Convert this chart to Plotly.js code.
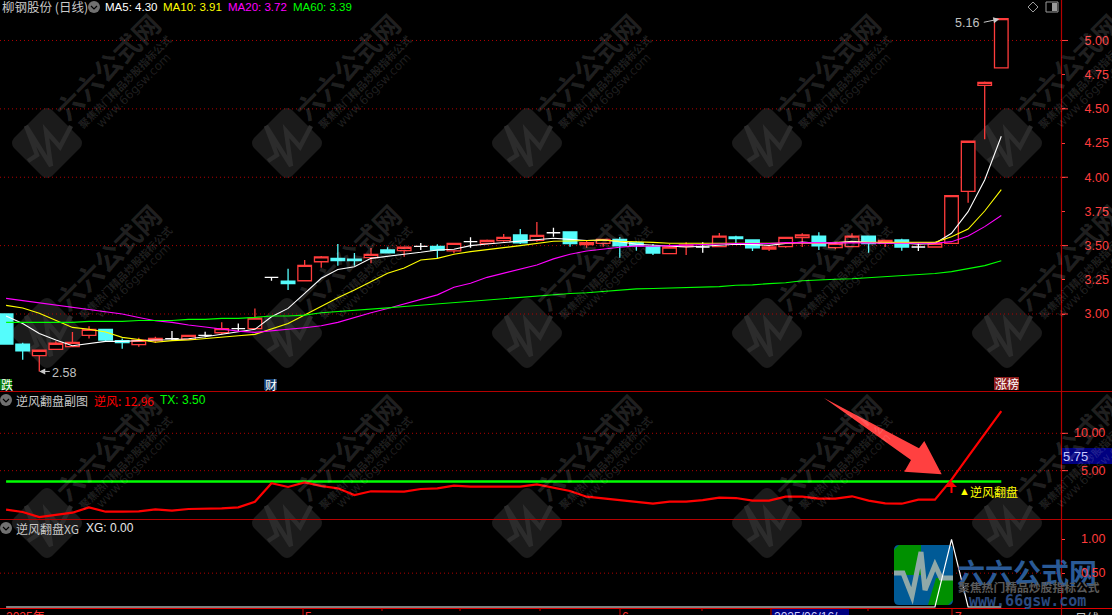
<!DOCTYPE html>
<html><head><meta charset="utf-8">
<script src="https://cdn.plot.ly/plotly-3.0.1.min.js"></script>
<style>html,body{margin:0;padding:0;background:#000;overflow:hidden}#c{width:1112px;height:615px}</style>
</head><body><div id="c"></div>
<script>
const dayIndex = Array.from({length:61},(_,i)=>i);
const openVals = [3.00,2.78,2.695,2.742,2.761,2.844,2.888,2.805,2.776,2.803,2.82,2.815,2.844,2.863,2.893,2.893,3.268,3.241,3.243,3.382,3.407,3.402,3.412,3.468,3.463,3.495,3.495,3.461,3.529,3.517,3.536,3.578,3.539,3.594,3.60,3.507,3.517,3.546,3.521,3.492,3.441,3.492,3.49,3.492,3.563,3.541,3.475,3.492,3.558,3.57,3.485,3.492,3.57,3.517,3.541,3.49,3.49,3.517,3.897,4.672,4.80];
const closeVals = [2.78,2.73,2.735,2.786,2.793,2.888,2.81,2.79,2.808,2.822,2.82,2.844,2.844,2.893,2.893,2.97,3.268,3.222,3.356,3.417,3.39,3.39,3.436,3.448,3.488,3.495,3.468,3.517,3.529,3.539,3.561,3.521,3.575,3.594,3.514,3.521,3.546,3.499,3.499,3.446,3.49,3.505,3.49,3.57,3.551,3.483,3.49,3.561,3.578,3.499,3.517,3.57,3.514,3.539,3.49,3.49,3.517,3.865,4.263,4.694,5.16];
const highVals = [3.00,2.79,2.735,2.80,2.868,2.91,2.888,2.82,2.827,2.834,2.876,2.844,2.87,2.94,2.93,3.04,3.27,3.33,3.395,3.424,3.512,3.446,3.483,3.488,3.488,3.519,3.51,3.517,3.561,3.545,3.585,3.622,3.673,3.631,3.60,3.536,3.546,3.563,3.53,3.512,3.512,3.524,3.524,3.592,3.572,3.546,3.505,3.561,3.59,3.597,3.517,3.59,3.57,3.539,3.55,3.517,3.517,3.865,4.263,4.70,5.16];
const lowVals = [2.78,2.666,2.58,2.742,2.761,2.82,2.797,2.746,2.761,2.79,2.81,2.815,2.83,2.85,2.876,2.893,3.243,3.175,3.243,3.339,3.353,3.353,3.371,3.444,3.419,3.468,3.407,3.444,3.485,3.51,3.529,3.512,3.529,3.565,3.492,3.485,3.492,3.412,3.463,3.431,3.441,3.431,3.448,3.492,3.517,3.461,3.461,3.485,3.49,3.468,3.473,3.492,3.448,3.49,3.463,3.461,3.485,3.517,3.814,4.277,4.80];
const ma5 = [2.985,2.931,2.858,2.81,2.768,2.783,2.80,2.80,2.807,2.81,2.812,2.819,2.834,2.853,2.868,2.888,2.98,3.041,3.151,3.261,3.326,3.346,3.407,3.424,3.437,3.451,3.468,3.473,3.50,3.512,3.522,3.532,3.541,3.554,3.546,3.537,3.541,3.529,3.51,3.502,3.493,3.49,3.495,3.505,3.51,3.507,3.502,3.515,3.527,3.517,3.52,3.532,3.522,3.52,3.52,3.51,3.515,3.59,3.748,3.98,4.30];
const ma10 = [3.063,3.044,3.005,2.951,2.902,2.888,2.868,2.829,2.814,2.793,2.805,2.81,2.822,2.832,2.841,2.851,2.892,2.931,2.992,3.058,3.119,3.175,3.237,3.298,3.337,3.395,3.407,3.437,3.456,3.473,3.485,3.50,3.517,3.532,3.534,3.537,3.541,3.532,3.529,3.524,3.517,3.517,3.515,3.515,3.517,3.517,3.515,3.515,3.517,3.517,3.524,3.524,3.527,3.522,3.524,3.524,3.524,3.565,3.621,3.753,3.91];
const ma20 = [3.114,3.097,3.083,3.068,3.048,3.034,3.017,3.00,2.975,2.951,2.939,2.919,2.905,2.888,2.875,2.866,2.875,2.888,2.90,2.914,2.939,2.975,3.009,3.04,3.075,3.11,3.14,3.195,3.225,3.268,3.298,3.329,3.359,3.403,3.437,3.461,3.476,3.488,3.498,3.495,3.50,3.505,3.51,3.512,3.515,3.515,3.515,3.522,3.522,3.522,3.52,3.524,3.52,3.517,3.517,3.517,3.517,3.529,3.571,3.639,3.72];
const ma60 = [2.939,2.939,2.939,2.939,2.939,2.946,2.946,2.946,2.953,2.953,2.953,2.961,2.961,2.968,2.968,2.975,2.985,2.985,2.992,3.009,3.017,3.027,3.034,3.045,3.055,3.065,3.075,3.085,3.095,3.105,3.115,3.125,3.135,3.14,3.15,3.155,3.165,3.178,3.184,3.186,3.19,3.19,3.197,3.20,3.21,3.213,3.222,3.229,3.243,3.25,3.254,3.258,3.266,3.272,3.282,3.288,3.296,3.31,3.333,3.354,3.39];
const nifeng = [-0.22,-0.53,-1.2,-0.89,-0.62,0.09,-0.49,-0.49,-0.44,-0.17,-0.35,-0.13,-0.09,-0.04,0.09,0.85,3.31,2.82,3.44,2.95,2.64,1.74,2.24,2.19,2.19,2.55,2.64,2.99,2.86,2.86,2.86,2.86,3.17,2.68,2.28,1.52,1.30,1.07,0.85,0.58,0.85,0.85,1.07,1.39,1.34,0.99,0.99,1.52,1.52,1.25,1.25,1.57,0.99,0.63,0.58,1.12,1.12,3.8,6.88,9.91,12.96];
const txVals = dayIndex.map(()=>3.55);
const xgVals = dayIndex.map(i=>i===57?1:0);
const priceTicks = [3,3.25,3.5,3.75,4,4.25,4.5,4.75,5];
const priceTickText = ['3.00','3.25','3.50','3.75','4.00','4.25','4.50','4.75','5.00'];
const priceGrid = [3,3.5,4,4.5,5];
const windTicks = [5,10];
const windTickText = ['5.00','10.00'];
const xgTicks = [0.5,1];
const xgTickText = ['0.50','1.00'];

const W=1112,H=615,AXX=1061;
const px=x=>x/W, py=y=>1-y/H;
const RED='#ff3c3c', SEP='#b40000', GRID='#b00000';
const pick=(a,idx)=>idx.map(i=>a[i]);
const upIdx=dayIndex.filter(i=>closeVals[i]>openVals[i]);
const downIdx=dayIndex.filter(i=>closeVals[i]<openVals[i]);
const flatIdx=dayIndex.filter(i=>closeVals[i]===openVals[i]);
function candle(idx,col,fill){
  const s={line:{color:col,width:1.3},fillcolor:fill};
  return {type:'candlestick',x:idx,open:pick(openVals,idx),high:pick(highVals,idx),low:pick(lowVals,idx),close:pick(closeVals,idx),
    increasing:s,decreasing:s,whiskerwidth:0,showlegend:false,hoverinfo:'skip',xaxis:'x',yaxis:'y'};
}
function line(y,col,w,ya){return {type:'scatter',mode:'lines',x:dayIndex,y,line:{color:col,width:w},yaxis:ya,xaxis:'x',showlegend:false,hoverinfo:'skip'};}
const traces=[
  candle(upIdx,RED,'#000'),candle(downIdx,'#54fcfc','#54fcfc'),candle(flatIdx,'#fff','#fff'),
  line(ma5,'#fff',1.1,'y'),line(ma10,'#ffff00',1.1,'y'),line(ma20,'#ff00ff',1.1,'y'),line(ma60,'#00ff00',1.1,'y'),
  line(txVals,'#00ff00',2.4,'y2'),line(nifeng,'#ff0000',2.2,'y2'),line(xgVals,'#ffffff',1.2,'y3')
];

const shapes=[],ann=[];
function pathPx(pts,close){return pts.map((p,i)=>(i?'L':'M')+px(p[0])+','+py(p[1])).join(' ')+(close?' Z':'');}
function rawPath(d,fill,lineCol,lw,layer){shapes.push({type:'path',xref:'paper',yref:'paper',path:d,fillcolor:fill||'rgba(0,0,0,0)',line:{color:lineCol||'rgba(0,0,0,0)',width:lw||0},layer:layer||'below'});}
function hline(x0,x1,y,col,w,dash,layer){shapes.push({type:'line',xref:'paper',yref:'paper',x0:px(x0),x1:px(x1),y0:py(y),y1:py(y),line:{color:col,width:w,dash:dash||'solid'},layer:layer||'below'});}
function vline(x,y0,y1,col,w,layer){shapes.push({type:'line',xref:'paper',yref:'paper',x0:px(x),x1:px(x),y0:py(y0),y1:py(y1),line:{color:col,width:w},layer:layer||'below'});}
function box(x0,y0,x1,y1,fill,layer){shapes.push({type:'rect',xref:'paper',yref:'paper',x0:px(x0),x1:px(x1),y0:py(y0),y1:py(y1),fillcolor:fill,line:{width:0},layer:layer||'below'});}
function txt(x,y,t,col,size,opt){ann.push(Object.assign({xref:'paper',yref:'paper',x:px(x),y:py(y),text:t,showarrow:false,xanchor:'left',yanchor:'middle',font:{color:col,size,family:'Liberation Sans, Noto Sans CJK SC'},borderpad:0,borderwidth:0},opt||{}));}
const CJK='Noto Sans CJK SC';

// watermark
const wmX=[47,287,527,767,1007], wmY=[143,333,523];
wmY.forEach(cy=>wmX.forEach(cx=>{
  const d='M'+px(cx-5)+','+py(cy-33)+' Q'+px(cx)+','+py(cy-37)+' '+px(cx+5)+','+py(cy-33)+
   ' L'+px(cx+33)+','+py(cy-5)+' Q'+px(cx+37)+','+py(cy)+' '+px(cx+33)+','+py(cy+5)+
   ' L'+px(cx+5)+','+py(cy+33)+' Q'+px(cx)+','+py(cy+37)+' '+px(cx-5)+','+py(cy+33)+
   ' L'+px(cx-33)+','+py(cy+5)+' Q'+px(cx-37)+','+py(cy)+' '+px(cx-33)+','+py(cy-5)+' Z';
  rawPath(d,'#1b1b1b');
  rawPath(pathPx([[cx-19,cy+18],[cx-10,cy+12],[cx-21,cy-17],[cx+4,cy+23],[cx-1,cy-12],[cx+13,cy+4],[cx+24,cy-17]]),null,'#2c2c2c',4.5);
  const w='rgba(255,255,255,0.13)';
  txt(cx+60,cy-76,'<b>六六公式网</b>',w,27,{xanchor:'center',textangle:-45,font:{color:w,size:27,family:CJK}});
  txt(cx+78,cy-61,'<b>聚焦热门精品炒股指标公式</b>',w,10.5,{xanchor:'center',textangle:-45,font:{color:w,size:10.5,family:CJK}});
  txt(cx+86,cy-52,'www.66gsw.com',w,12,{xanchor:'center',textangle:-45,font:{color:w,size:12,family:'DejaVu Sans'}});
}));

// grid
priceGrid.forEach(v=>shapes.push({type:'line',xref:'paper',yref:'y',x0:0,x1:px(AXX),y0:v,y1:v,line:{color:GRID,width:1,dash:'1px,3px'},layer:'below'}));
windTicks.forEach(v=>shapes.push({type:'line',xref:'paper',yref:'y2',x0:0,x1:px(AXX),y0:v,y1:v,line:{color:GRID,width:1,dash:'1px,3px'},layer:'below'}));
shapes.push({type:'line',xref:'paper',yref:'y3',x0:0,x1:px(AXX),y0:0.5,y1:0.5,line:{color:GRID,width:1,dash:'1px,3px'},layer:'below'});
priceGrid.forEach(v=>shapes.push({type:'line',xref:'paper',yref:'y',x0:px(AXX),x1:px(AXX+7),y0:v,y1:v,line:{color:RED,width:1},layer:'below'}));
windTicks.forEach(v=>shapes.push({type:'line',xref:'paper',yref:'y2',x0:px(AXX),x1:px(AXX+7),y0:v,y1:v,line:{color:RED,width:1},layer:'below'}));
// frame
hline(0,W,391.5,SEP,1.2);hline(0,W,519.5,SEP,1.2);hline(0,W,608.5,'#e00000',1.2);
vline(AXX+.5,0,615,SEP,1.2);
[382,460,540,702,868].forEach(x=>vline(x,608,611,'#d00000',1));
[303,620,952,771].forEach(x=>vline(x,608,615,'#d00000',1));

// markers and labels on panes
box(0,379,12,390,'#0a7a0a');txt(0.5,384.5,'跌','#fff',12,{font:{color:'#fff',size:12,family:CJK}});
box(264,379,277,390,'#123a6c');txt(264.5,384.5,'财','#fff',12,{font:{color:'#fff',size:12,family:CJK}});
box(994,377,1019,390,'#8c1c1c');txt(994.5,383.5,'涨榜','#fff',12,{font:{color:'#fff',size:12,family:CJK}});
box(1062,448,1112,464,'#000080');txt(1063,456,'5.75','#c8c8ff',13);
txt(2,7,'柳钢股份 (日线)','#c8c8c8',12.5,{font:{color:'#c8c8c8',size:12.5,family:CJK}});
[[105,'MA5: 4.30','#fff'],[163,'MA10: 3.91','#ffff00'],[228,'MA20: 3.72','#ff00ff'],[293,'MA60: 3.39','#00ff00']].forEach(a=>txt(a[0],7,a[1],a[2],11.5));
txt(16,400,'逆风翻盘副图','#c8c8c8',12,{font:{color:'#c8c8c8',size:12,family:CJK}});
txt(94,400,'逆风: 12.96','#ff0000',12,{font:{color:'#ff0000',size:12,family:CJK}});
txt(160,400,'TX: 3.50','#00ff00',12);
txt(16,528,'逆风翻盘XG','#c8c8c8',12,{font:{color:'#c8c8c8',size:12,family:CJK}});
txt(86,528,'XG: 0.00','#e8e8e8',12);
[[94,7],[6,400],[6,528]].forEach(([x,y])=>{
  shapes.push({type:'circle',xref:'paper',yref:'paper',x0:px(x-6),x1:px(x+6),y0:py(y-6),y1:py(y+6),fillcolor:'#707070',line:{width:0},layer:'below'});
  rawPath(pathPx([[x-3,y-1],[x,y+2],[x+3,y-1]]),null,'#000',1.2);
});
rawPath(pathPx([[1033,2],[1038,7],[1033,12],[1028,7]],true),null,'#9a9a9a',1);
shapes.push({type:'rect',xref:'paper',yref:'paper',x0:px(1046),x1:px(1058),y0:py(2),y1:py(12),line:{color:'#9a9a9a',width:1},fillcolor:'rgba(0,0,0,0)',layer:'below'});
box(1052,3,1057,11,'#9a9a9a');

// price callouts
ann.push({xref:'x',yref:'y',x:60,y:5.16,ax:-19,ay:4,text:'',arrowcolor:'#c8c8c8',arrowwidth:1,arrowhead:2,arrowsize:1.2,standoff:2});
ann.push({xref:'x',yref:'y',x:2,y:2.58,ax:12,ay:0,text:'',arrowcolor:'#c8c8c8',arrowwidth:1,arrowhead:2,arrowsize:1.2});
txt(955,23,'5.16','#c0c0c0',12.5);
txt(52,373,'2.58','#c0c0c0',12.5);

// signal
ann.push({xref:'x',yref:'y2',x:57,y:3.55,ax:0,ay:13,text:'',arrowcolor:'#ff0000',arrowwidth:2,arrowhead:1,arrowsize:0.9});
txt(959,491,'▲','#ffff00',11);
txt(970,491,'逆风翻盘','#ffff00',12,{font:{color:'#ffff00',size:12,family:CJK}});

// big arrow
rawPath(pathPx([[824,398],[919,448.3],[924.3,441],[941.7,474.3],[904.3,471.7],[911,460]],true),'#ff4040',null,0,'above');

// axis tick labels along the bottom
txt(6,617,'2025年','#ff3030',12);
txt(305,617,'5','#ff3030',12);txt(622,617,'6','#ff3030',12);txt(955,617,'7','#ff3030',12);
box(772,609,849,615,'#000080');txt(774,617,'2025/06/16/','#d0d0ff',12);
txt(1075,617,'日线','#c0c0c0',12,{font:{color:'#c0c0c0',size:12,family:CJK}});

// bottom logo
const lx0=894,lx1=953,ly0=545,ly1=605;
rawPath('M'+px(lx0+5)+','+py(ly0)+' L'+px(lx1-5)+','+py(ly0)+' Q'+px(lx1)+','+py(ly0)+' '+px(lx1)+','+py(ly0+5)+' L'+px(lx1)+','+py(ly1-5)+' Q'+px(lx1)+','+py(ly1)+' '+px(lx1-5)+','+py(ly1)+' L'+px(lx0+5)+','+py(ly1)+' Q'+px(lx0)+','+py(ly1)+' '+px(lx0)+','+py(ly1-5)+' L'+px(lx0)+','+py(ly0+5)+' Q'+px(lx0)+','+py(ly0)+' '+px(lx0+5)+','+py(ly0)+' Z','#005a96');
rawPath(pathPx([[lx0+5,ly0],[921,ly0],[921,575],[lx0,575],[lx0,ly0+5]],true),'#009000');
rawPath(pathPx([[928,605],[936,578],[953,578],[953,600],[948,605]],true),'#009000');
rawPath(pathPx([[894,573],[903,573],[912,596],[921,552],[925,590],[935,565],[941,578],[953,578]]),null,'#8fa8a8',5);
txt(1027,572,'<b>六六公式网</b>','#2a5a96',28,{xanchor:'center',font:{color:'#2a5a96',size:28,family:CJK}});
txt(1029,586,'<b>聚焦热门精品炒股指标公式</b>','#5a5a5a',11.8,{xanchor:'center',font:{color:'#5a5a5a',size:11.8,family:CJK}});
txt(1027,601,'<b>www.66gsw.com</b>','#2a4a80',15,{xanchor:'center',font:{color:'#2a4a80',size:15,family:'DejaVu Sans Mono'}});

// right-aligned tick labels for the two lower panes, read from their scale arrays
function axisLabel(ya,vals,text){vals.forEach((v,i)=>ann.push({xref:'paper',yref:ya,x:px(1107),y:v,text:text[i],showarrow:false,xanchor:'right',yanchor:'middle',font:{color:RED,size:12.5,family:'Liberation Sans'}}));}
axisLabel('y2',windTicks,windTickText);
axisLabel('y3',xgTicks,xgTickText);

const axisCommon={side:'right',anchor:'x',showgrid:false,zeroline:false,showline:false,ticks:'outside',ticklen:3,tickwidth:1,tickcolor:RED,tickfont:{color:RED,size:12.5,family:'Liberation Sans'},tickmode:'array',fixedrange:true};
const layout={width:W,height:H,margin:{l:0,r:0,t:0,b:0,pad:0},paper_bgcolor:'#000',plot_bgcolor:'rgba(0,0,0,0)',showlegend:false,boxgap:0.18,boxgroupgap:0,
  xaxis:{domain:[0,px(AXX)],range:[-0.368,63.6],visible:false,anchor:'y3',rangeslider:{visible:false},fixedrange:true,type:'linear'},
  yaxis:Object.assign({},axisCommon,{domain:[1-391/H,1],range:[2.437,5.296],tickvals:priceTicks,ticktext:priceTickText,ticklabelstandoff:17}),
  yaxis2:Object.assign({},axisCommon,{domain:[1-519/H,1-391/H],range:[-1.466,15.66],tickvals:windTicks,ticktext:windTickText,showticklabels:false}),
  yaxis3:Object.assign({},axisCommon,{domain:[1-608.3/H,1-519/H],range:[-0.019,1.30],tickvals:xgTicks,ticktext:xgTickText,showticklabels:false}),
  shapes,annotations:ann,hovermode:false};
Plotly.newPlot('c',traces,layout,{displayModeBar:false,staticPlot:true});
</script></body></html>
